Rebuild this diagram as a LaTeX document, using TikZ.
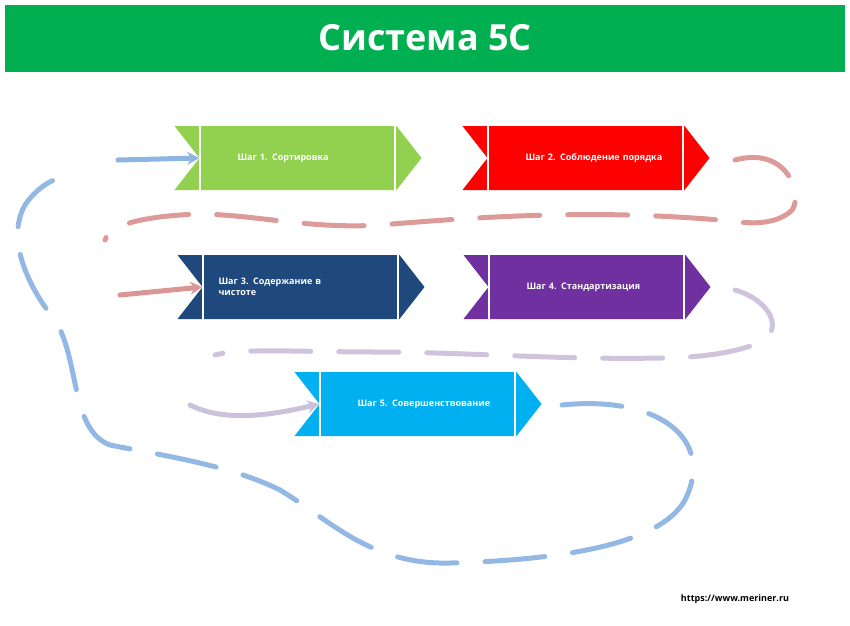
\documentclass[tikz,border=0pt]{standalone}
\usepackage{fontspec}
\setmainfont{Open Sans}
\usetikzlibrary{shapes.symbols,calc,arrows.meta}

\definecolor{titlegreen}{RGB}{0,176,80}
\definecolor{stepgreen}{RGB}{146,208,80}
\definecolor{stepred}{RGB}{255,0,0}
\definecolor{stepnavy}{RGB}{31,73,125}
\definecolor{steppurple}{RGB}{112,48,160}
\definecolor{stepcyan}{RGB}{0,176,240}
\definecolor{pathblue}{RGB}{141,180,226}
\definecolor{pathred}{RGB}{218,150,148}
\definecolor{pathlilac}{RGB}{204,193,218}

\tikzset{
    stepbox/.style={shape=signal, signal from=west, signal to=east,
        signal pointer angle=104, minimum width=247pt, minimum height=64pt,
        inner sep=0pt, text=white, font=\bfseries\fontsize{9}{11}\selectfont,
        align=left, text width=165pt},
    divider/.style={white, line width=1.5pt},
    trail/.style={line width=5pt, line cap=round, opacity=0.95,
        dash pattern=on 60pt off 28pt},
    trailtip/.style={-{Stealth[length=12pt,width=13pt]}, line width=5pt, line cap=round},
}

\begin{document}
\begin{tikzpicture}[x=1pt, y=-1pt]
    \useasboundingbox (0,0) rectangle (850,625);

    % title bar
    \fill[titlegreen] (5,5) rectangle (845,72);
    \node[white, font=\bfseries\fontsize{36}{40}\selectfont] (title) at (425,38) {Система 5С};

    % steps
    \node[stepbox, fill=stepgreen] (s1) at (298,158) {\hspace*{22pt}Шаг 1. Сортировка};
    \node[stepbox, fill=stepred] (s2) at (586,158) {\hspace*{22pt}Шаг 2. Соблюдение порядка};
    \node[stepbox, fill=stepnavy] (s3) at (301,287) {Шаг 3. Содержание в\\чистоте};
    \node[stepbox, fill=steppurple] (s4) at (587,287) {\hspace*{22pt}Шаг 4. Стандартизация};
    \node[stepbox, fill=stepcyan] (s5) at (418,404) {\hspace*{22pt}Шаг 5. Совершенствование};

    \foreach \s in {s1,s2,s3,s4,s5} {
        \draw[divider] ($(\s.north west)+(26pt,0)$) -- ($(\s.south west)+(26pt,0)$);
        \draw[divider] ($(\s.east |- \s.north)+(-27pt,0)$) -- ($(\s.east |- \s.south)+(-27pt,0)$);
    }

    % blue trail
    \draw[trail, pathblue] (562,405) .. controls (660,395) and (715,440) .. (685,500)
        .. controls (660,545) and (560,560) .. (450,563)
        .. controls (370,565) and (330,520) .. (280,490)
        .. controls (230,465) and (160,455) .. (110,445)
        .. controls (70,430) and (80,360) .. (55,320)
        .. controls (30,290) and (5,240) .. (25,205)
        .. controls (35,190) and (50,180) .. (60,178);
    \coordinate (b0) at (118,160);
    \draw[trailtip, pathblue] (b0) -- (s1.west);

    % red trail
    \draw[trail, pathred] (735,160) .. controls (790,145) and (805,200) .. (790,212)
        .. controls (770,228) and (740,222) .. (720,220)
        .. controls (600,210) and (500,215) .. (380,225)
        .. controls (300,230) and (240,210) .. (180,215)
        .. controls (140,218) and (110,225) .. (105,240);
    \coordinate (r0) at (120,295);
    \draw[trailtip, pathred] (r0) -- (s3.west);

    % lilac trail
    \draw[trail, pathlilac] (735,290) .. controls (770,300) and (785,330) .. (760,342)
        .. controls (740,352) and (700,358) .. (660,358)
        .. controls (560,360) and (460,352) .. (380,352)
        .. controls (300,352) and (240,348) .. (215,355);
    \coordinate (l0) at (190,405);
    \draw[trailtip, pathlilac] (l0) .. controls (220,420) and (260,418) .. (s5.west);

    % source
    \node[font=\bfseries\fontsize{9}{11}\selectfont] (url) at (735,599) {https://www.meriner.ru};
\end{tikzpicture}
\end{document}
